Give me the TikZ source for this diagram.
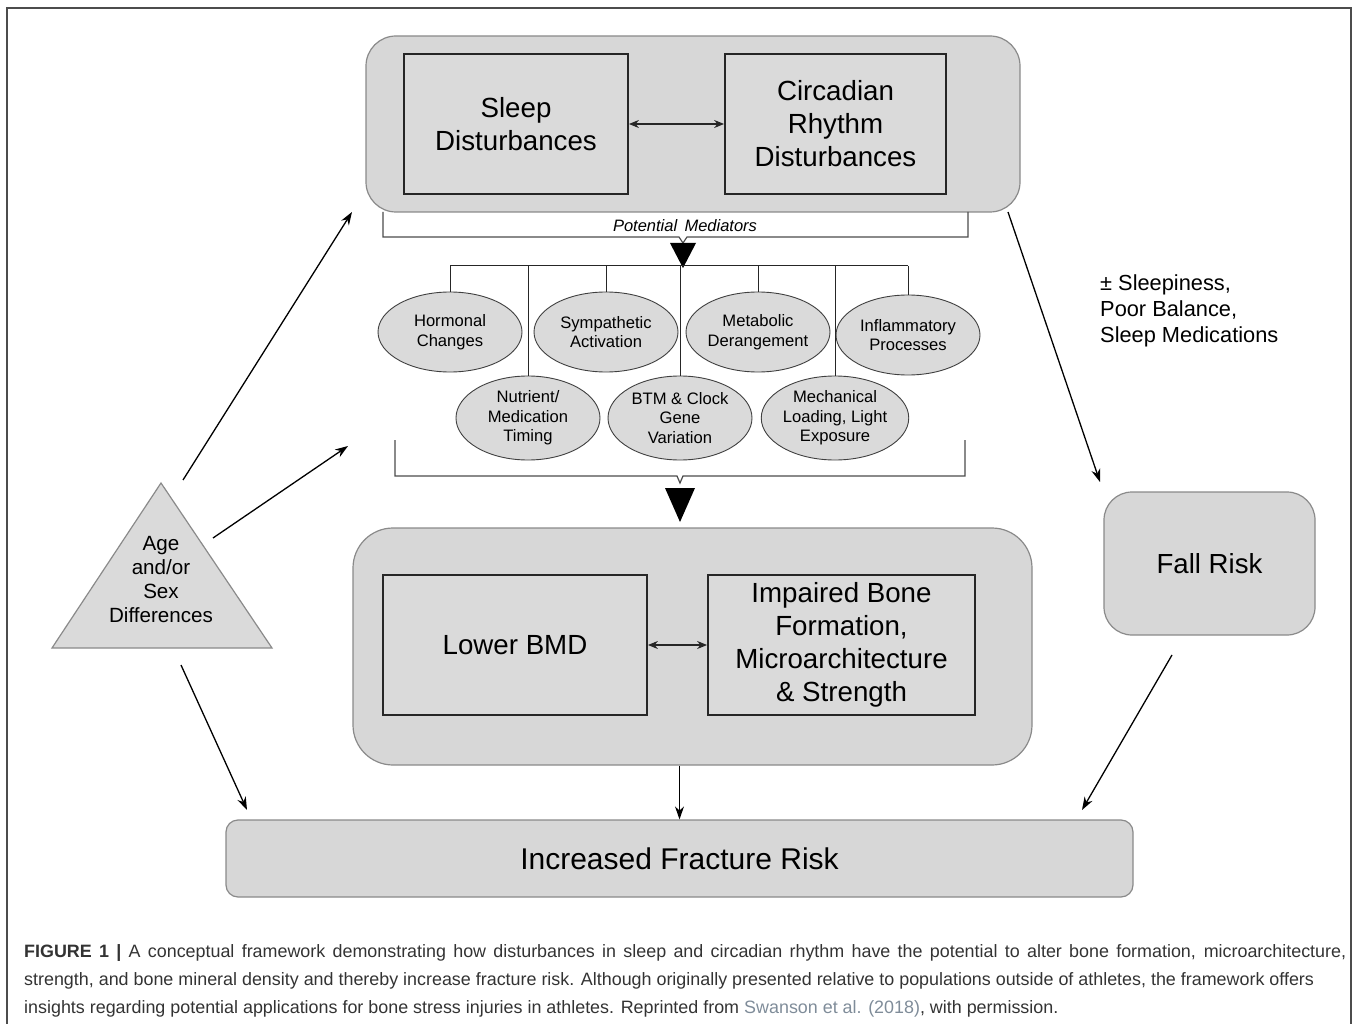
\documentclass[tikz,border=0pt]{standalone}
\usepackage{fontspec}
\setmainfont{Liberation Sans}
\usetikzlibrary{arrows.meta,shapes.geometric}
\definecolor{boxfill}{HTML}{DADADA}
\definecolor{outerfill}{HTML}{D7D7D7}
\definecolor{outerdraw}{HTML}{8A8A8A}
\definecolor{captxt}{HTML}{333333}
\definecolor{linkc}{HTML}{7F8C99}
\begin{document}
\begin{tikzpicture}[x=1pt,y=-1pt,
  outerbox/.style={draw=outerdraw, fill=outerfill, line width=1.2pt},
  innerbox/.style={draw=black!85, fill=boxfill, line width=1.8pt, align=center, inner sep=0pt,
     font=\fontsize{27.7}{33}\selectfont},
  med/.style={ellipse, draw=black!75, fill=boxfill, line width=0.9pt, minimum width=144pt,
     minimum height=80pt, inner sep=0pt, align=center, font=\fontsize{16.6}{19.5}\selectfont},
  arr/.style={-{Stealth[length=13pt,width=9pt]}, line width=1.3pt},
  darr/.style={{Stealth[length=10pt,width=8pt]}-{Stealth[length=10pt,width=8pt]}, line width=1.1pt, black!85},
  brace/.style={draw=black!70, line width=1.2pt},
  conn/.style={draw=black!85, line width=1pt},
  bigtip/.style={fill=black}
]
\useasboundingbox (0,0) rectangle (1358,1024);
% frame
\draw[line width=2pt, black!70] (7,1024) -- (7,8) -- (1351,8) -- (1351,1024);

% top group
\node[outerbox, rounded corners=30pt, minimum width=654pt, minimum height=176pt] (topbox) at (693,124) {};
\node[innerbox, minimum width=224pt, minimum height=140pt] (sleep) at (516,124) {Sleep\\Disturbances};
\node[innerbox, minimum width=221pt, minimum height=140pt] (circ) at (835.5,124) {Circadian\\Rhythm\\Disturbances};
\draw[darr] (sleep.east) -- (circ.west);

% potential mediators bracket
\draw[brace] (383,212) -- (383,237) -- (679,237) -- (683,243) -- (687,237) -- (968,237) -- (968,212);
\node[font=\fontsize{16.5}{19}\selectfont\itshape] (pm) at (685,226) {Potential\, Mediators};
\coordinate (tt2) at (683,268);
\fill[bigtip] (670,243) -- (696,243) -- (tt2) -- cycle;

% mediators
\node[med] (horm) at (450,332) {Hormonal\\Changes};
\node[med] (symp) at (606,332) {Sympathetic\\Activation};
\node[med] (metab) at (758,332) {Metabolic\\Derangement};
\node[med] (infl) at (908,335) {Inflammatory\\Processes};
\node[med, minimum height=84pt] (nutr) at (528,418) {Nutrient/\\Medication\\Timing};
\node[med, minimum height=84pt] (btm) at (680,418) {BTM \& Clock\\Gene\\Variation};
\node[med, minimum height=84pt] (mech) at (835,418) {Mechanical\\Loading, Light\\Exposure};

\coordinate (barL) at (450,266);
\coordinate (barR) at (908,266);
\draw[conn] (barL) -- (barR);
\foreach \n in {horm,symp,metab,infl,nutr,btm,mech}{
  \draw[conn] (\n.north |- barL) -- (\n.north);
}

% lower bracket
\draw[brace] (395,440) -- (395,476) -- (677,476) -- (680,483) -- (683,476) -- (965,476) -- (965,440);
\coordinate (bt) at (680,522);
\fill[bigtip] (665,488) -- (695,488) -- (bt) -- cycle;

% middle group
\node[outerbox, rounded corners=40pt, minimum width=679pt, minimum height=237pt] (midbox) at (692.5,646.5) {};
\node[innerbox, minimum width=264pt, minimum height=140pt] (bmd) at (515,645) {Lower BMD};
\node[innerbox, minimum width=267pt, minimum height=140pt] (imp) at (841.5,645) {Impaired Bone\\Formation,\\Microarchitecture\\\& Strength};
\draw[darr] (bmd.east) -- (imp.west);

% fracture
\node[outerbox, rounded corners=12pt, minimum width=907pt, minimum height=77pt,
  font=\fontsize{30}{34}\selectfont] (frac) at (679.5,858.5) {Increased Fracture Risk};
\draw[arr] (frac.north |- midbox.south) -- (frac.north);

% fall risk
\node[outerbox, rounded corners=28pt, minimum width=211pt, minimum height=143pt,
  font=\fontsize{27.6}{32}\selectfont] (fall) at (1209.5,563.5) {Fall Risk};

% age triangle
\draw[draw=outerdraw, fill=boxfill, line width=1.2pt] (161,483) -- (272,648) -- (52,648) -- cycle;
\node[align=center, font=\fontsize{20.6}{24}\selectfont] (age) at (161,580) {Age\\and/or\\Sex\\Differences};

% arrows
\coordinate (a1s) at (183,480); \coordinate (a1e) at (352,212);
\coordinate (a2s) at (213,538); \coordinate (a2e) at (348,446);
\coordinate (a3s) at (181,665); \coordinate (a3e) at (247,810);
\coordinate (a4s) at (1172,655); \coordinate (a4e) at (1082,810);
\coordinate (a5s) at (1008,212); \coordinate (a5e) at (1100,482);
\draw[arr] (a1s) -- (a1e);
\draw[arr] (a2s) -- (a2e);
\draw[arr] (a3s) -- (a3e);
\draw[arr] (a4s) -- (a4e);
\draw[arr] (a5s) -- (a5e);

\node[anchor=north west, align=left, inner sep=0pt, font=\fontsize{21.8}{26}\selectfont] (lbl) at (1100,275)
  {± Sleepiness,\\Poor Balance,\\Sleep Medications};

% caption
\begin{scope}[every node/.style={anchor=base west, inner sep=0pt, text=captxt, font=\fontsize{17.9}{20}\selectfont}]
\node (c1) at (24,957) {\makebox[1322pt][s]{\textbf{FIGURE 1} \textbf{|} A conceptual framework demonstrating how disturbances in sleep and circadian rhythm have the potential to alter bone formation, microarchitecture,}};
\node (c2) at (24,985) {strength, and bone mineral density and thereby increase fracture risk. Although originally presented relative to populations outside of athletes, the framework offers};
\node (c3) at (24,1013) {insights regarding potential applications for bone stress injuries in athletes. Reprinted from \textcolor{linkc}{Swanson et al. (2018)}, with permission.};
\end{scope}
\end{tikzpicture}
\end{document}
